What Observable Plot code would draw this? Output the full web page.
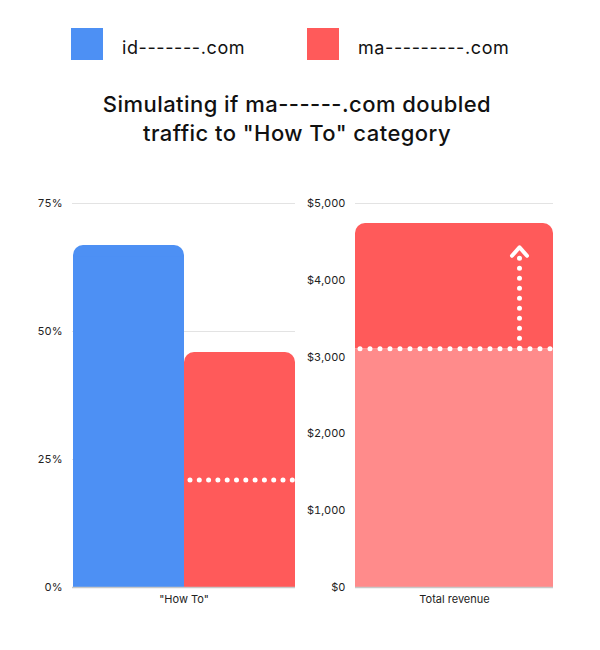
<!DOCTYPE html>
<html>
<head>
<meta charset="utf-8">
<script src="https://cdn.jsdelivr.net/npm/d3@7"></script>
<script src="https://cdn.jsdelivr.net/npm/@observablehq/plot@0.6"></script>
<style>
  html, body { margin: 0; padding: 0; background: #fff; }
  #wrap { position: relative; width: 600px; height: 650px; font-family: Inter, "Open Sans", sans-serif; color: #111; }
  .legend { position: absolute; top: 28px; display: flex; align-items: center; font-size: 18px; letter-spacing: 0.6px; }
  .legend span { padding-top: 7px; }
  .sw { width: 32px; height: 32px; margin-right: 19px; }
  #title { position: absolute; top: 90px; left: 0; width: 594px; text-align: center; font-size: 22px; font-weight: 500; line-height: 29px; letter-spacing: 0.45px; }
  #left { position: absolute; top: 170px; left: 0; }
  #right { position: absolute; top: 170px; left: 300px; }
</style>
</head>
<body>
<div id="wrap">
  <div id="legend"></div>
  <div id="title"></div>
  <div id="left"></div>
  <div id="right"></div>
</div>
<script>
// ---- data ----
const sites = ["id-------.com", "ma---------.com"];
const siteColors = ["#4D90F4", "#FF5A5A"];
const titleLines = ["Simulating if ma------.com doubled", "traffic to \"How To\" category"];
const categoryLabel = "\"How To\"";
const howToShare = [66.8, 45.9];      // % share, simulated
const howToOriginal = 21;              // % share of ma before doubling
const pctTicks = [0, 25, 50, 75];
const revenueLabel = "Total revenue";
const revenueBase = 3110;
const revenueSimulated = 4740;
const revenueArrowTop = 4300;
const revTicks = [0, 1000, 2000, 3000, 4000, 5000];
const baseColor = "#FF8B8B";

// ---- legend & title ----
const legend = document.getElementById("legend");
const legendX = [71, 307];
sites.forEach((s, i) => {
  const d = document.createElement("div");
  d.className = "legend";
  d.style.left = legendX[i] + "px";
  d.innerHTML = `<div class="sw" style="background:${siteColors[i]}"></div><span>${s}</span>`;
  legend.appendChild(d);
});
document.getElementById("title").innerHTML = titleLines.join("<br>");

const tickFont = {fontSize: "11px", fontFamily: "Inter, 'Open Sans', sans-serif", color: "#222"};
const dotted = {stroke: "white", strokeWidth: 5, strokeLinecap: "round"};

// ---- left chart ----
const leftData = sites.map((s, i) => ({cat: categoryLabel, site: s, value: howToShare[i]}));
const leftBase = [{cat: categoryLabel, site: sites[1], value: howToOriginal}];

const left = Plot.plot({
  width: 300, height: 450,
  marginLeft: 72, marginRight: 5, marginTop: 33, marginBottom: 33,
  style: tickFont,
  fx: {domain: [categoryLabel], label: null, axis: "bottom", padding: 0, tickSize: 0, tickPadding: 8},
  x: {domain: sites, axis: null, padding: 0},
  y: {domain: [0, 75], ticks: pctTicks, tickFormat: d => d + "%", label: null, tickSize: 0, tickPadding: 10},
  color: {domain: sites, range: siteColors},
  marks: [
    Plot.gridY(pctTicks, {stroke: "#e3e3e3", strokeOpacity: 1}),
    Plot.barY(leftData, {fx: "cat", x: "site", y: "value", fill: "site", rx: 10}),
    Plot.barY(leftData, {fx: "cat", x: "site", y: "value", fill: "site", insetTop: 12}),
    Plot.tickY(leftBase, {fx: "cat", x: "site", y: "value", ...dotted, strokeDasharray: "0 9.3", insetLeft: 6, insetRight: 2}),
    Plot.ruleY([0], {stroke: "#c8c8c8", strokeWidth: 1.5})
  ]
});
document.getElementById("left").appendChild(left);

// ---- right chart ----
const revData = [{label: revenueLabel, base: revenueBase, sim: revenueSimulated, top: revenueArrowTop}];
const chevron = {
  draw(context) {
    context.moveTo(-7.5, 4.5);
    context.lineTo(0, -4);
    context.lineTo(7.5, 4.5);
  }
};

const right = Plot.plot({
  width: 300, height: 450,
  marginLeft: 55, marginRight: 47, marginTop: 33, marginBottom: 33,
  style: tickFont,
  x: {domain: [revenueLabel], label: null, padding: 0, tickSize: 0, tickPadding: 8},
  y: {domain: [0, 5000], ticks: revTicks, tickFormat: d => "$" + d3.format(",")(d), label: null, tickSize: 0, tickPadding: 10},
  marks: [
    Plot.gridY(revTicks, {stroke: "#e3e3e3", strokeOpacity: 1}),
    Plot.barY(revData, {x: "label", y1: "base", y2: "sim", fill: siteColors[1], rx: 10}),
    Plot.barY(revData, {x: "label", y1: "base", y2: "sim", fill: siteColors[1], insetTop: 12}),
    Plot.barY(revData, {x: "label", y1: 0, y2: "base", fill: baseColor}),
    Plot.tickY(revData, {x: "label", y: "base", ...dotted, strokeDasharray: "0 10", insetLeft: 5, insetRight: 1}),
    Plot.ruleX(revData, {x: "label", y1: "base", y2: "top", dx: 65, ...dotted, strokeDasharray: "0 10"}),
    Plot.dot(revData, {x: "label", y: "top", dx: 65, dy: -6, symbol: chevron, r: 5, fill: "none", stroke: "white", strokeWidth: 4, strokeLinecap: "round", strokeLinejoin: "round"}),
    Plot.ruleY([0], {stroke: "#c8c8c8", strokeWidth: 1.5})
  ]
});
document.getElementById("right").appendChild(right);
</script>
</body>
</html>
